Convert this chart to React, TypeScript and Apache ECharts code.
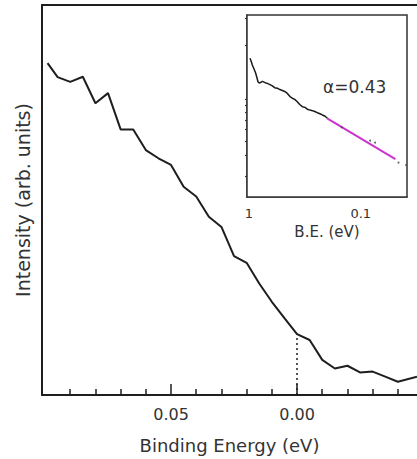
import React, { useEffect, useRef } from "react";
import * as echarts from "echarts";

// Main spectrum: binding energy (eV) vs intensity (arb. units)
const mainEnergy = [0.099, 0.095, 0.090, 0.085, 0.080, 0.075, 0.070, 0.065, 0.060, 0.055, 0.050, 0.045, 0.040, 0.035, 0.030, 0.025, 0.020, 0.015, 0.010, 0.005, 0.000, -0.005, -0.010, -0.015, -0.020, -0.025, -0.030, -0.035, -0.040, -0.0476];
const mainIntensity = [85.1, 81.5, 80.3, 81.6, 74.8, 77.4, 68.1, 68.1, 62.8, 60.7, 59.0, 53.4, 50.9, 45.7, 43.1, 35.6, 33.9, 28.6, 23.9, 19.7, 15.6, 14.1, 9.0, 6.8, 7.5, 5.8, 6.0, 4.7, 3.4, 4.7];
const mainMajorTicks = [0.05, 0.0];
const mainMinorTicks = [0.09, 0.08, 0.07, 0.06, 0.04, 0.03, 0.02, 0.01, -0.01, -0.02, -0.03, -0.04];

// Inset: log-log plot
const insetEnergy = [0.98, 0.955, 0.934, 0.90, 0.871, 0.85, 0.831, 0.81, 0.786, 0.76, 0.734, 0.71, 0.686, 0.65, 0.618, 0.59, 0.558, 0.53, 0.503, 0.48, 0.454, 0.43, 0.41, 0.39, 0.37, 0.35, 0.333, 0.315, 0.301, 0.285, 0.271, 0.258, 0.245, 0.232, 0.221, 0.21, 0.199];
const insetIntensity = [2.01, 1.88, 1.76, 1.62, 1.50, 1.38, 1.27, 1.24, 1.25, 1.28, 1.26, 1.24, 1.23, 1.20, 1.17, 1.13, 1.12, 1.09, 1.07, 1.05, 1.01, 0.95, 0.92, 0.90, 0.86, 0.81, 0.78, 0.77, 0.742, 0.73, 0.722, 0.71, 0.694, 0.68, 0.664, 0.65, 0.622];
const insetDotEnergy = [0.148, 0.0826, 0.0745, 0.046, 0.0393];
const insetDotIntensity = [0.522, 0.402, 0.387, 0.262, 0.25];
const fitEnergy = [0.2, 0.049];
const fitIntensity = [0.62, 0.28];
const insetXMajor = [1, 0.1];
const insetXMinor = [0.9, 0.8, 0.7, 0.6, 0.5, 0.4, 0.3, 0.2, 0.09, 0.08, 0.07, 0.06, 0.05, 0.04];
const insetYMajor = [1];
const insetYMinor = [4.4, 2.6, 0.9, 0.8, 0.7, 0.6, 0.5, 0.4, 0.3, 0.2];
const fitLabel = "\u03b1=0.43";

const FONT = "DejaVu Sans";
const TEXT = "#333";
const LINE = "#1e1e1e";

const lg = (v: number) => Math.log10(v);

export default function App() {
  const ref = useRef<HTMLDivElement>(null);
  useEffect(() => {
    if (!ref.current) return;
    const chart = echarts.init(ref.current, null, { renderer: "svg" });
    const zeroIdx = mainEnergy.indexOf(0);
    const option: any = {
      animation: false,
      backgroundColor: "#fff",
      grid: [
        { left: 42, top: 5, right: 0, bottom: 64, containLabel: false },
        { left: 247, top: 15, width: 160, height: 182, show: true, backgroundColor: "#fff", borderColor: "#333", borderWidth: 1.5, z: 5 },
      ],
      xAxis: [
        {
          type: "value", gridIndex: 0, position: "bottom", inverse: true, min: -0.0476, max: 0.1012,
          name: "Binding Energy (eV)", nameLocation: "middle", nameGap: 41,
          nameTextStyle: { fontFamily: FONT, fontSize: 18, color: TEXT },
          axisLine: { show: true, onZero: false, lineStyle: { color: LINE, width: 2 } },
          axisTick: { show: true, inside: true, length: 11, customValues: mainMajorTicks, lineStyle: { color: LINE, width: 1.5 } },
          axisLabel: { show: true, customValues: mainMajorTicks, margin: 11, fontFamily: FONT, fontSize: 16, color: TEXT, formatter: (v: number) => v.toFixed(2) },
          splitLine: { show: false },
        },
        {
          type: "value", gridIndex: 0, position: "bottom", inverse: true, min: -0.0476, max: 0.1012,
          axisLine: { show: false },
          axisTick: { show: true, inside: true, length: 6, customValues: mainMinorTicks, lineStyle: { color: LINE, width: 1.5 } },
          axisLabel: { show: false },
          splitLine: { show: false },
        },
        {
          type: "value", gridIndex: 0, position: "top", inverse: true, min: -0.0476, max: 0.1012,
          axisLine: { show: true, onZero: false, lineStyle: { color: LINE, width: 2 } },
          axisTick: { show: false }, axisLabel: { show: false }, splitLine: { show: false },
        },
        {
          type: "value", gridIndex: 1, position: "bottom", inverse: true, min: lg(0.0386), max: 0.018,
          name: "B.E. (eV)", nameLocation: "middle", nameGap: 27,
          nameTextStyle: { fontFamily: FONT, fontSize: 15, color: TEXT },
          axisLine: { show: true, onZero: false, lineStyle: { color: "#333", width: 1.5 } },
          axisTick: { show: true, inside: true, length: 6, customValues: insetXMajor.map(lg), lineStyle: { color: "#333", width: 1.2 } },
          axisLabel: { show: true, customValues: insetXMajor.map(lg), margin: 10, fontFamily: FONT, fontSize: 13, color: TEXT, formatter: (v: number) => (Math.round(Math.pow(10, v) * 1000) / 1000).toString() },
          splitLine: { show: false },
        },
        {
          type: "value", gridIndex: 1, position: "bottom", inverse: true, min: lg(0.0386), max: 0.018,
          axisLine: { show: false },
          axisTick: { show: true, inside: true, length: 4, customValues: insetXMinor.map(lg), lineStyle: { color: "#333", width: 1.2 } },
          axisLabel: { show: false }, splitLine: { show: false },
        },
      ],
      yAxis: [
        {
          type: "value", gridIndex: 0, min: 0, max: 100,
          name: "Intensity (arb. units)", nameLocation: "middle", nameGap: 10, nameRotate: 90,
          nameTextStyle: { fontFamily: FONT, fontSize: 19, color: TEXT },
          axisLine: { show: true, onZero: false, lineStyle: { color: LINE, width: 2 } },
          axisTick: { show: false }, axisLabel: { show: false }, splitLine: { show: false },
        },
        {
          type: "value", gridIndex: 1, min: -0.873, max: 0.669,
          axisLine: { show: true, onZero: false, lineStyle: { color: "#333", width: 1.5 } },
          axisTick: { show: true, inside: true, length: 7, customValues: insetYMajor.map(lg), lineStyle: { color: "#333", width: 1.2 } },
          axisLabel: { show: false }, splitLine: { show: false },
        },
        {
          type: "value", gridIndex: 1, min: -0.873, max: 0.669,
          axisLine: { show: false },
          axisTick: { show: true, inside: true, length: 4, customValues: insetYMinor.map(lg), lineStyle: { color: "#333", width: 1.2 } },
          axisLabel: { show: false }, splitLine: { show: false },
        },
      ],
      series: [
        {
          type: "line", xAxisIndex: 0, yAxisIndex: 0, symbol: "none",
          data: mainEnergy.map((e, i) => [e, mainIntensity[i]]),
          lineStyle: { color: LINE, width: 2 },
          markLine: {
            silent: true, symbol: "none", label: { show: false },
            lineStyle: { color: LINE, width: 1.5, type: [2, 3] },
            data: [[{ coord: [0, 0] }, { coord: [0, mainIntensity[zeroIdx]] }]],
          },
          z: 2,
        },
        {
          type: "line", xAxisIndex: 3, yAxisIndex: 1, symbol: "none",
          data: insetEnergy.map((e, i) => [lg(e), lg(insetIntensity[i])]),
          lineStyle: { color: "#1a1a1a", width: 1.5 },
          z: 10,
        },
        {
          type: "line", xAxisIndex: 3, yAxisIndex: 1, symbol: "none",
          data: fitEnergy.map((e, i) => [lg(e), lg(fitIntensity[i])]),
          lineStyle: { color: "#cc33cc", width: 2 },
          z: 11,
        },
        {
          type: "scatter", xAxisIndex: 3, yAxisIndex: 1, symbolSize: 2,
          data: insetDotEnergy.map((e, i) => [lg(e), lg(insetDotIntensity[i])]),
          itemStyle: { color: "#444" },
          z: 12,
        },
      ],
      graphic: [
        { type: "text", left: 323, top: 78, z: 20, style: { text: fitLabel, fontFamily: FONT, fontSize: 17, fill: TEXT } },
      ],
    };
    chart.setOption(option);
    return () => chart.dispose();
  }, []);
  return <div ref={ref} style={{ width: 417, height: 459, position: "absolute", left: 0, top: 0 }} />;
}
